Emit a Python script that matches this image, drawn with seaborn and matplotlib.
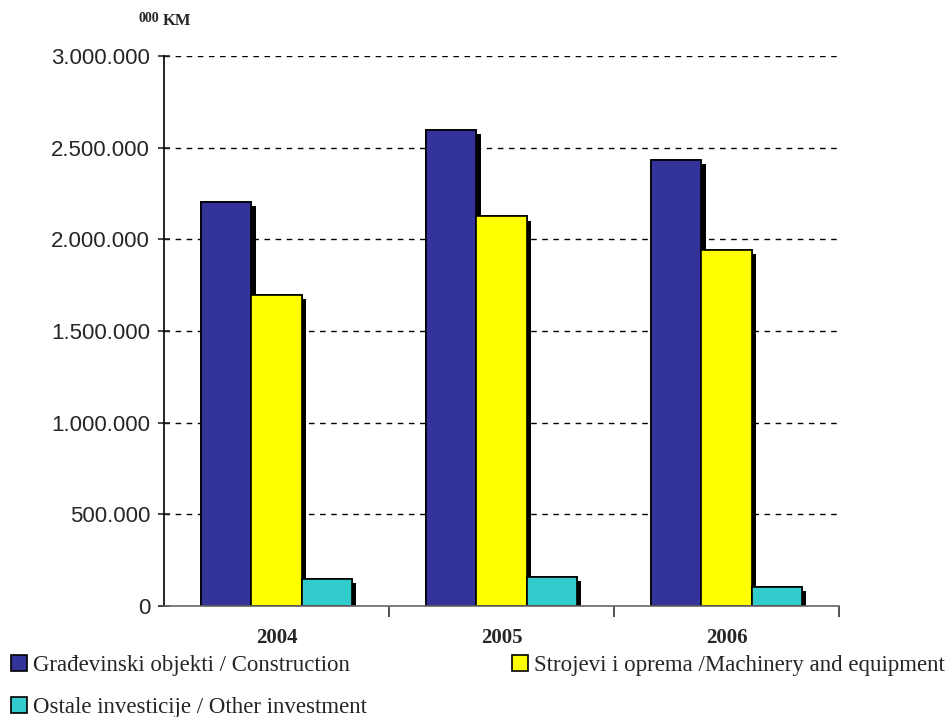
import matplotlib
matplotlib.use("Agg")
import matplotlib.pyplot as plt
import matplotlib.patheffects as pe
from matplotlib.ticker import FuncFormatter, FixedLocator
from matplotlib.patches import Patch
import seaborn as sns
import pandas as pd

years = ["2004", "2005", "2006"]
series = ["Građevinski objekti / Construction",
          "Strojevi i oprema /Machinery and equipment",
          "Ostale investicije / Other investment"]
construction = [2205000, 2595000, 2435000]
machinery = [1697000, 2125000, 1942000]
other = [148000, 160000, 106000]
colors = ["#333399", "#FFFF00", "#33CCCC"]
yticks = [0, 500000, 1000000, 1500000, 2000000, 2500000, 3000000]

rows = []
for s, vals in zip(series, [construction, machinery, other]):
    for y, v in zip(years, vals):
        rows.append({"Year": y, "Series": s, "Value": v})
df = pd.DataFrame(rows)

sns.set_style("white")
plt.rcParams["font.family"] = ["Liberation Sans", "DejaVu Sans"]

fig = plt.figure(figsize=(9.53, 7.17), dpi=100)
ax = fig.add_axes([164/953, 1 - 606/717, 675/953, 550/717])

sns.barplot(data=df, x="Year", y="Value", hue="Series", order=years,
            hue_order=series, palette=colors, width=0.667, ax=ax,
            edgecolor="black", linewidth=1.2, saturation=1, legend=False,
            errorbar=None)

for p in ax.patches:
    p.set_path_effects([pe.withSimplePatchShadow(offset=(3, -3),
                                                 shadow_rgbFace="black",
                                                 alpha=1.0),
                        pe.Normal()])

ax.set_ylim(0, 3000000)
ax.set_xlim(-0.5, 2.5)
ax.yaxis.set_major_locator(FixedLocator(yticks))
ax.yaxis.set_major_formatter(FuncFormatter(
    lambda v, _: "0" if v == 0 else f"{int(v):,}".replace(",", ".")))
for t in yticks[1:]:
    ax.axhline(t, color="black", linestyle=(0, (4, 4)), linewidth=1.0, zorder=0)

for s in ["top", "right"]:
    ax.spines[s].set_visible(False)
ax.spines["left"].set_color("black")
ax.spines["left"].set_linewidth(1.2)
ax.spines["bottom"].set_color("#666666")
ax.spines["bottom"].set_linewidth(1.2)

ax.tick_params(axis="y", direction="inout", length=8, width=1.2,
               labelsize=16, pad=6, left=True)
ax.set_xticks([0, 1, 2])
ax.set_xticklabels(years, fontfamily="Liberation Serif", fontweight="bold",
                   fontsize=15)
ax.tick_params(axis="x", length=0, pad=16)
ax.set_xticks([0.5, 1.5, 2.5], minor=True)
ax.tick_params(axis="x", which="minor", direction="out", length=8,
               width=1.2, color="#333333", bottom=True)
ax.set_xlabel("")
ax.set_ylabel("")

fig.text(139/953, 1 - 19/717, "000", fontfamily="Liberation Serif",
         fontweight="bold", fontsize=10, va="center", ha="left")
fig.text(163/953, 1 - 21/717, "KM", fontfamily="Liberation Serif",
         fontweight="bold", fontsize=12, va="center", ha="left")

def hnd(c):
    return Patch(facecolor=c, edgecolor="black", linewidth=1.2)

prop = {"family": "Liberation Serif", "size": 16.5}
fig.legend([hnd(colors[0]), hnd(colors[2])], [series[0], series[2]],
           loc="upper left", bbox_to_anchor=(11/953, 1 - 655/717),
           frameon=False, prop=prop, handlelength=0.7, handleheight=0.7,
           handletextpad=0.25, labelspacing=0.9, borderaxespad=0,
           borderpad=0)
fig.legend([hnd(colors[1])], [series[1]],
           loc="upper left", bbox_to_anchor=(512/953, 1 - 655/717),
           frameon=False, prop=prop, handlelength=0.7, handleheight=0.7,
           handletextpad=0.25, borderaxespad=0, borderpad=0)

fig.savefig("out.png", dpi=100)
